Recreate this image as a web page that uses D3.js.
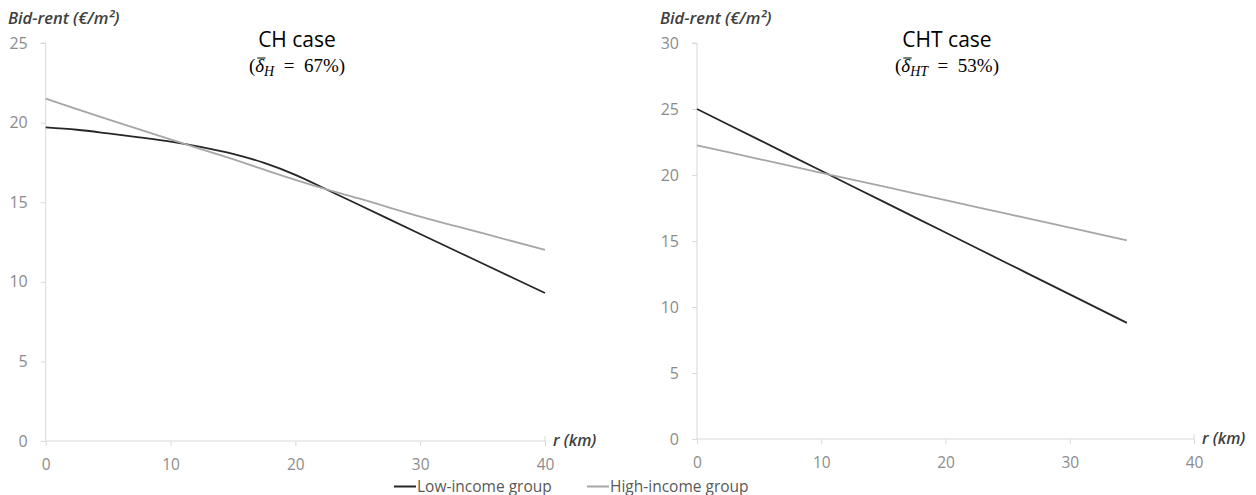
<!DOCTYPE html>
<html><head><meta charset="utf-8">
<script src="https://cdn.jsdelivr.net/npm/d3@7"></script>
<style>
body{margin:0;background:#fff;}
svg{display:block;}
</style></head>
<body>
<svg id="c" width="1256" height="495"></svg>
<script>
// ---- data ----
const xTicks = [0, 10, 20, 30, 40];
const leftYTicks = [0, 5, 10, 15, 20, 25];
const rightYTicks = [0, 5, 10, 15, 20, 25, 30];

// CH case
const chR     = [0, 2.5, 5, 7.5, 10, 12.5, 15, 17.5, 20, 22.5, 25, 30, 35, 40];
const chLow   = [19.7, 19.55, 19.32, 19.07, 18.8, 18.46, 18.04, 17.47, 16.72, 15.8, 14.87, 13.0, 11.15, 9.3];
const chHigh  = [21.5, 20.85, 20.2, 19.57, 18.95, 18.32, 17.7, 17.05, 16.4, 15.8, 15.25, 14.1, 13.05, 12.0];

// CHT case
const chtR    = [0, 5, 10, 15, 20, 25, 30, 34.6];
const chtLow  = [25.0, 22.66, 20.32, 17.98, 15.64, 13.3, 10.96, 8.8];
const chtHigh = [22.25, 21.21, 20.17, 19.13, 18.09, 17.05, 16.01, 15.05];

const legendLabels = ["Low-income group", "High-income group"];
const seriesColors = ["#262626", "#a6a6a6"];

const svg = d3.select("#c");
const sans = "'Open Sans', Lato, sans-serif";
const serif = "'Liberation Serif', 'DejaVu Serif', serif";

function panel(cfg){
  const x = d3.scaleLinear().domain([0, 40]).range([cfg.x0, cfg.x1]);
  const y = d3.scaleLinear().domain([0, cfg.yMax]).range([cfg.y0, cfg.y1]);
  const g = svg.append("g");

  // y axis
  const ya = g.append("g").attr("transform", `translate(${cfg.x0},0)`)
    .call(d3.axisLeft(y).tickValues(cfg.yTicks).tickSize(5).tickPadding(13).tickFormat(d3.format("d")));
  ya.select(".domain").attr("stroke", "#d9d9d9").attr("d", `M-5,${cfg.y1}H0V${cfg.y0}`);
  ya.selectAll(".tick line").attr("stroke", "#d9d9d9");
  ya.selectAll(".tick text").attr("fill", "#8c8c8c").style("font-family", sans).style("font-size", "16px");

  // x axis
  const xa = g.append("g").attr("transform", `translate(0,${cfg.y0})`)
    .call(d3.axisBottom(x).tickValues(xTicks).tickSize(5).tickPadding(13).tickFormat(d3.format("d")));
  xa.select(".domain").attr("stroke", "#d9d9d9").attr("d", `M${cfg.x0},0H${cfg.x1}V-5`);
  xa.selectAll(".tick line").attr("stroke", "#d9d9d9");
  xa.selectAll(".tick text").attr("fill", "#8c8c8c").style("font-family", sans).style("font-size", "15.5px");

  // lines
  const line = d3.line().x(d => x(d[0])).y(d => y(d[1])).curve(d3.curveMonotoneX);
  cfg.series.forEach((s, i) => {
    g.append("path").datum(cfg.r.map((r, k) => [r, s[k]]))
      .attr("fill", "none").attr("stroke", seriesColors[i]).attr("stroke-width", 1.8)
      .attr("d", line);
  });

  // axis titles
  g.append("text").attr("x", cfg.yTitleX).attr("y", 24)
    .style("font-family", sans).style("font-size", "16.5px").style("font-style", "italic").style("font-weight", "600")
    .attr("fill", "#404040").text("Bid-rent (€/m²)");
  g.append("text").attr("x", cfg.x1 + 8).attr("y", cfg.y0 + 5)
    .style("font-family", sans).style("font-size", "16px").style("font-style", "italic").style("font-weight", "600")
    .attr("fill", "#404040").text("r (km)");

  // chart title
  g.append("text").attr("x", cfg.titleX).attr("y", 47).attr("text-anchor", "middle")
    .style("font-family", sans).style("font-size", "21px").attr("fill", "#000").text(cfg.title);
  const sub = g.append("text").attr("x", cfg.titleX).attr("y", 72).attr("text-anchor", "middle")
    .style("font-family", serif).style("font-size", "19px").attr("fill", "#000");
  sub.append("tspan").text("(");
  sub.append("tspan").style("font-style", "italic").text("δ");
  sub.append("tspan").style("font-style", "italic").style("font-size", "14px").attr("dy", 4).text(cfg.sub);
  sub.append("tspan").attr("dy", -4).text("\u2002=\u2002" + cfg.pct + ")");
  // overbar on delta
  const ext = sub.node().getExtentOfChar(1);
  g.append("line").attr("x1", ext.x + 2).attr("x2", ext.x + ext.width + 1.5)
    .attr("y1", ext.y + 3).attr("y2", ext.y + 3).attr("stroke", "#000").attr("stroke-width", 1);
}

panel({x0: 45.7, x1: 545, y0: 441, y1: 43, yMax: 25, yTicks: leftYTicks,
  r: chR, series: [chLow, chHigh], title: "CH case", sub: "H", pct: "67%",
  titleX: 297, yTitleX: 8});
panel({x0: 697, x1: 1194, y0: 439, y1: 43, yMax: 30, yTicks: rightYTicks,
  r: chtR, series: [chtLow, chtHigh], title: "CHT case", sub: "HT", pct: "53%",
  titleX: 947, yTitleX: 660});

// legend
const leg = svg.append("g");
const legX = [394, 587];
legendLabels.forEach((lab, i) => {
  leg.append("line").attr("x1", legX[i]).attr("x2", legX[i] + 22).attr("y1", 486.5).attr("y2", 486.5)
    .attr("stroke", seriesColors[i]).attr("stroke-width", 2);
  leg.append("text").attr("x", legX[i] + 23).attr("y", 491.5)
    .style("font-family", sans).style("font-size", "15.5px").attr("fill", "#595959").text(lab);
});
</script>
</body></html>
